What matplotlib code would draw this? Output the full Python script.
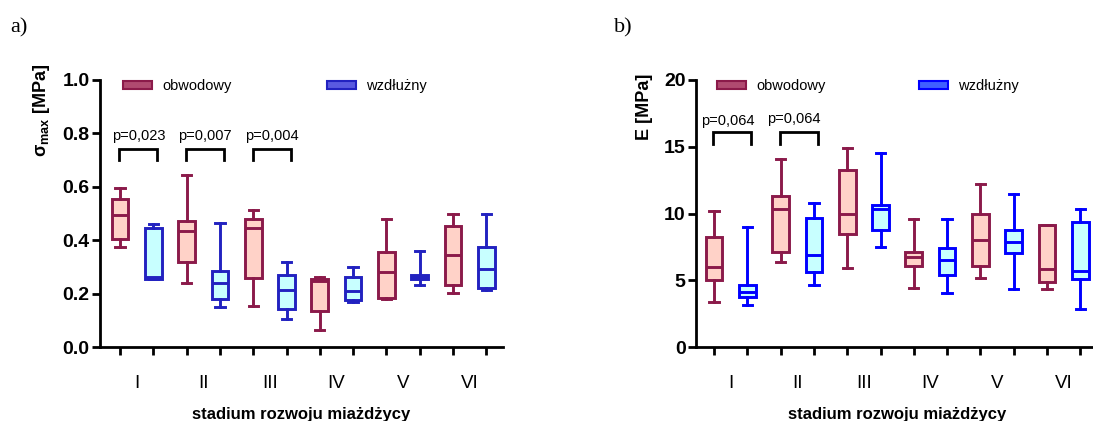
import matplotlib
matplotlib.use("Agg")
import matplotlib.pyplot as plt
from matplotlib.patches import Patch

# ---------------- data ----------------
stages = ["I", "II", "III", "IV", "V", "VI"]

# panel a) sigma_max [MPa]
a_obw_whislo = [0.375, 0.241, 0.154, 0.065, 0.178, 0.201]
a_obw_q1     = [0.406, 0.319, 0.260, 0.134, 0.184, 0.233]
a_obw_med    = [0.493, 0.435, 0.446, 0.247, 0.280, 0.346]
a_obw_q3     = [0.554, 0.471, 0.478, 0.253, 0.354, 0.453]
a_obw_whishi = [0.596, 0.644, 0.513, 0.261, 0.480, 0.498]

a_wz_whislo = [0.253, 0.150, 0.103, 0.169, 0.232, 0.213]
a_wz_q1     = [0.256, 0.181, 0.144, 0.175, 0.254, 0.221]
a_wz_med    = [0.262, 0.238, 0.213, 0.209, 0.261, 0.294]
a_wz_q3     = [0.446, 0.284, 0.269, 0.264, 0.270, 0.376]
a_wz_whishi = [0.459, 0.466, 0.320, 0.298, 0.360, 0.498]

# panel b) E [MPa]
b_obw_whislo = [3.37, 6.33, 5.91, 4.44, 5.14, 4.36]
b_obw_q1     = [5.04, 7.13, 8.48, 6.03, 6.06, 4.89]
b_obw_med    = [6.01, 10.35, 9.95, 6.76, 8.00, 5.81]
b_obw_q3     = [8.23, 11.30, 13.27, 7.11, 9.95, 9.15]
b_obw_whishi = [10.15, 14.09, 14.91, 9.60, 12.24, 9.15]

b_wz_whislo = [3.12, 4.61, 7.51, 4.04, 4.31, 2.84]
b_wz_q1     = [3.74, 5.64, 8.73, 5.39, 7.03, 5.06]
b_wz_med    = [4.11, 6.88, 10.35, 6.51, 7.88, 5.71]
b_wz_q3     = [4.64, 9.68, 10.65, 7.41, 8.75, 9.33]
b_wz_whishi = [8.98, 10.82, 14.51, 9.60, 11.47, 10.37]

a_pvals = ["p=0,023", "p=0,007", "p=0,004"]
a_pstage = [0, 1, 2]
b_pvals = ["p=0,064", "p=0,064"]
b_pstage = [0, 1]

legend_labels = ["obwodowy", "wzdłużny"]

# ---------------- style ----------------
MAROON = "#8B1A4A"
PINK = "#FFD2C8"
CYAN = "#C8FFFF"
BLUE_A = "#2222C0"
BLUE_B = "#0000FF"
SANS = ["Liberation Sans", "DejaVu Sans"]
NARROW = ["Liberation Sans Narrow", "Liberation Sans", "DejaVu Sans"]

plt.rcParams["font.family"] = SANS
plt.rcParams["mathtext.fontset"] = "custom"
plt.rcParams["mathtext.rm"] = "Liberation Sans"
plt.rcParams["mathtext.it"] = "Liberation Sans"

fig = plt.figure(figsize=(10.93, 4.21), dpi=100)
ax_a = fig.add_axes([100 / 1093, 74 / 421, 403 / 1093, 267 / 421])
ax_b = fig.add_axes([696 / 1093, 74 / 421, 403 / 1093, 267 / 421])


def stats(lo, q1, med, q3, hi):
    return [dict(whislo=l, q1=a, med=m, q3=b, whishi=h, fliers=[])
            for l, a, m, b, h in zip(lo, q1, med, q3, hi)]


def draw_boxes(ax, st, positions, edge, face):
    lw = 2.1
    ax.bxp(st, positions=positions, widths=0.5, capwidths=0.28,
           showfliers=False, patch_artist=True,
           boxprops=dict(facecolor=face, edgecolor=edge, linewidth=lw),
           medianprops=dict(color=edge, linewidth=lw),
           whiskerprops=dict(color=edge, linewidth=lw),
           capprops=dict(color=edge, linewidth=lw))


def style_axis(ax, xlim, ylim, yticks, yfmt):
    ax.set_xlim(*xlim)
    ax.set_ylim(*ylim)
    for s in ["top", "right"]:
        ax.spines[s].set_visible(False)
    for s in ["left", "bottom"]:
        ax.spines[s].set_linewidth(2.0)
        ax.spines[s].set_clip_on(False)
    ax.set_yticks(yticks)
    ax.set_yticklabels([yfmt.format(v) for v in yticks],
                       fontsize=14, fontweight="bold")
    ax.tick_params(axis="y", length=5.5, width=2.0, pad=2)
    n = len(stages)
    ax.set_xticks(range(1, 2 * n + 1))
    ax.set_xticklabels([])
    ax.tick_params(axis="x", which="major", length=6, width=2.0,
                   direction="out")
    ax.set_xticks([2 * i + 1.5 for i in range(n)], minor=True)
    ax.set_xticklabels(stages, minor=True, fontsize=13.5, family=NARROW)
    ax.tick_params(axis="x", which="minor", length=0, pad=20)
    ax.set_xlabel("stadium rozwoju miażdżycy", fontsize=12,
                  fontweight="bold", family=NARROW, labelpad=11)


def add_legend(ax, edge, face, x0, colspace):
    handles = [Patch(facecolor="#B04A70", edgecolor=MAROON, linewidth=1.5),
               Patch(facecolor=face, edgecolor=edge, linewidth=1.5)]
    leg = ax.legend(handles, legend_labels, ncol=2, loc="center left",
                    bbox_to_anchor=(x0, 0.977), frameon=False,
                    fontsize=10.5, handlelength=2.0, handleheight=0.4,
                    handletextpad=0.7, columnspacing=colspace,
                    borderpad=0, borderaxespad=0)
    return leg


def add_brackets(ax, stage_idx, texts, y_low, y_high, y_text, dx_text):
    for k, (si, t) in enumerate(zip(stage_idx, texts)):
        x1 = 2 * si + 1 - 0.02
        x2 = 2 * si + 2 + 0.12
        ax.plot([x1, x1, x2, x2], [y_low, y_high, y_high, y_low],
                color="black", linewidth=2.0, solid_joinstyle="miter",
                clip_on=False)
        ax.text((x1 + x2) / 2 + dx_text[k], y_text[k], t, ha="center",
                va="center", fontsize=10.5)


# ---- panel a ----
pos_obw = [2 * i + 1 for i in range(len(stages))]
pos_wz = [2 * i + 2 for i in range(len(stages))]
draw_boxes(ax_a, stats(a_obw_whislo, a_obw_q1, a_obw_med, a_obw_q3, a_obw_whishi),
           pos_obw, MAROON, PINK)
draw_boxes(ax_a, stats(a_wz_whislo, a_wz_q1, a_wz_med, a_wz_q3, a_wz_whishi),
           pos_wz, BLUE_A, CYAN)
style_axis(ax_a, (0.4, 12.5), (0, 1.0), [0, 0.2, 0.4, 0.6, 0.8, 1.0], "{:.1f}")
ax_a.set_ylabel(r"$\mathregular{\sigma_{max}}$ [MPa]", fontsize=13,
                fontweight="bold")
ax_a.yaxis.set_label_coords(-0.118, 0.888)
add_legend(ax_a, BLUE_A, "#5A5AE0", 0.057, 6.5)
add_brackets(ax_a, a_pstage, a_pvals, 0.70, 0.74, [0.79, 0.79, 0.79],
             [0, 0, 0])

# ---- panel b ----
draw_boxes(ax_b, stats(b_obw_whislo, b_obw_q1, b_obw_med, b_obw_q3, b_obw_whishi),
           pos_obw, MAROON, PINK)
draw_boxes(ax_b, stats(b_wz_whislo, b_wz_q1, b_wz_med, b_wz_q3, b_wz_whishi),
           pos_wz, BLUE_B, CYAN)
style_axis(ax_b, (0.46, 12.56), (0, 20), [0, 5, 10, 15, 20], "{:d}")
ax_b.set_ylabel("E [MPa]", fontsize=13, fontweight="bold")
ax_b.yaxis.set_label_coords(-0.107, 0.9)
add_legend(ax_b, BLUE_B, "#4060FF", 0.052, 6.4)
add_brackets(ax_b, b_pstage, b_pvals, 15.2, 16.13, [16.96, 17.08],
             [-0.13, -0.16])

# panel letters
fig.text(10 / 1093, 1 - 28 / 421, "a)", fontsize=16,
         family=["Liberation Serif", "DejaVu Serif"], va="center", ha="left")
fig.text(614 / 1093, 1 - 28 / 421, "b)", fontsize=16,
         family=["Liberation Serif", "DejaVu Serif"], va="center", ha="left")

fig.savefig("out.png", dpi=100)
